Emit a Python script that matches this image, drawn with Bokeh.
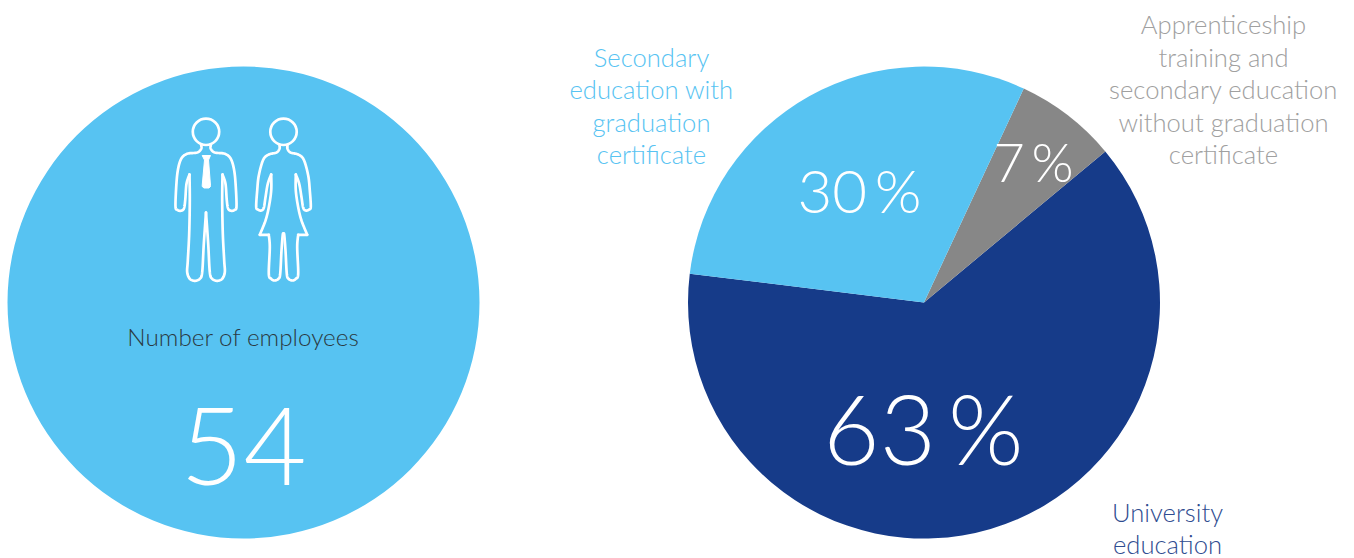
import numpy as np
from bokeh.core.properties import value
from bokeh.embed import file_html
from bokeh.models import Range1d
from bokeh.plotting import figure
from bokeh.resources import INLINE

W, H = 1354, 558

# Education shares and their labels
categories = ["University education", "Apprenticeship training and secondary education without graduation certificate",
              "Secondary education with graduation certificate"]
shares = [63, 7, 30]
share_labels = ["63\u2009%", "7\u2009%", "30\u2009%"]
employee_caption = "Number of employees"
employee_count = "54"

LIGHT, DARK, GREY = "#57c3f2", "#163b89", "#878787"
FONT = value("Lato Light")

# Left half of each pictogram, page pixels; each run is smoothed, runs meet at sharp corners
man_axis = 205.5
man_runs = [
    [(200.7, 144.3), (200.7, 148.3), (196.7, 152), (186.7, 153.3), (180.7, 158.3), (177.3, 170),
     (175.7, 186.7), (175, 206), (176.7, 209.3), (180, 210.3), (183.3, 208.3), (184.7, 200),
     (186, 183.3), (189, 174)],
    [(189, 174), (189.3, 200), (188.7, 233), (187.3, 260), (186.7, 271.7), (189.3, 278.3),
     (194.3, 280.3), (199.3, 278.3), (201.7, 271.7), (203.3, 243.3), (205.5, 212)],
]
woman_axis = 283.0
woman_runs = [
    [(279, 145), (279, 148.3), (276, 152), (268.3, 154), (262.7, 159.3), (258.3, 175),
     (256.7, 190), (255.7, 206), (257.3, 209), (260.7, 210), (263.3, 207.3), (265, 196.7),
     (267.3, 183.3), (270.7, 174)],
    [(270.7, 174), (270.7, 190), (268.3, 206.7), (265, 220), (259.3, 234.3)],
    [(259.3, 234.3), (268.3, 234.3)],
    [(268.3, 234.3), (269.3, 246.7), (268.3, 273.3), (270.7, 278.3), (274, 280), (278, 278.3),
     (279.7, 273.3), (281, 250), (282.3, 234), (283, 234)],
]
tie_x = [201.7, 210, 208, 210, 210, 208.5, 203.5, 201.7, 201.7, 204]
tie_y = [155, 155, 159.5, 185, 186, 187.5, 187.5, 186, 185, 159.5]


def Y(py):
    return H - py


def smooth(points, n=10):
    """Catmull-Rom curve through the given points."""
    pts = np.array(points, dtype=float)
    if len(pts) < 3:
        return pts
    pad = np.vstack([pts[0], pts, pts[-1]])
    out = []
    for i in range(1, len(pad) - 2):
        p0, p1, p2, p3 = pad[i - 1], pad[i], pad[i + 1], pad[i + 2]
        for t in np.linspace(0, 1, n, endpoint=False):
            out.append(0.5 * (2 * p1 + (p2 - p0) * t + (2 * p0 - 5 * p1 + 4 * p2 - p3) * t ** 2
                              + (3 * p1 - p0 - 3 * p2 + p3) * t ** 3))
    out.append(pts[-1])
    return np.array(out)


p = figure(width=W, height=H, output_backend="svg", toolbar_location=None,
           x_range=Range1d(0, W), y_range=Range1d(0, H), min_border=0)
p.axis.visible = False
p.grid.visible = False
p.outline_line_color = None

# Employee disc
p.circle(x=[243], y=[Y(302)], radius=236, color=LIGHT, line_color=None)


def figure_outline(runs, axis, head_y=131.3):
    for run in runs:
        c = smooth(run)
        for xs in (c[:, 0], 2 * axis - c[:, 0]):
            p.line(xs, Y(c[:, 1]), line_color="white", line_width=2.7, line_join="round", line_cap="round")
    p.circle(x=[axis], y=[Y(head_y)], radius=13.2, fill_color=None, line_color="white", line_width=2.7)


figure_outline(man_runs, man_axis)
figure_outline(woman_runs, woman_axis)
p.patch(tie_x, [Y(v) for v in tie_y], color="white", line_color="white", line_width=1)

# Pie, drawn counter-clockwise from the end of the university slice
cx, cy, r = 923.5, Y(302), 236
start = np.deg2rad(173.0)
colors = [DARK, GREY, LIGHT]
a = start
for s, c in zip(shares, colors):
    b = a + s / sum(shares) * 2 * np.pi
    p.wedge(x=[cx], y=[cy], radius=r, start_angle=a, end_angle=b, color=c, line_color=None)
    a = b


def text(x, y, t, size, color):
    p.text(x=[x], y=[Y(y)], text=[t], text_font=FONT, text_font_size=f"{size}px", text_color=color,
           text_align="center", text_baseline="middle")


text(243, 335.5, employee_caption, 24.3, "#2b3a42")
text(243, 445.5, employee_count, 109, "white")
text(923, 427, share_labels[0], 97, "white")
text(1033, 160.5, share_labels[1], 54, "white")
text(859, 189.5, share_labels[2], 60, "white")

for y, t in zip([56.5, 88.5, 121.5, 153.5], ["Secondary", "education with", "graduation", "certificate"]):
    text(651, y, t, 25.6, LIGHT)
for y, t in zip([23.5, 56.5, 88.5, 121.5, 153.5], ["Apprenticeship", "training and", "secondary education",
                                                   "without graduation", "certificate"]):
    text(1223, y, t, 25.6, "#a0a0a0")
for y, t in zip([511.5, 543.5], ["University", "education"]):
    text(1167, y, t, 25.6, "#2f4c90")

open("out.html", "w").write(file_html(p, INLINE))
